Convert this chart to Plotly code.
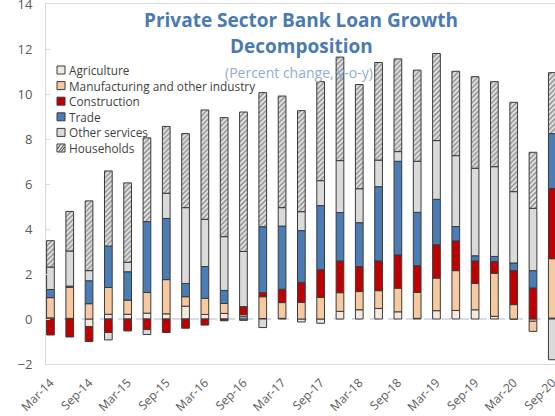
import plotly.graph_objects as go

# Quarterly contributions to private-sector loan growth (percentage points, y-o-y)
quarters = ["Mar-14", "Jun-14", "Sep-14", "Dec-14", "Mar-15", "Jun-15", "Sep-15", "Dec-15",
            "Mar-16", "Jun-16", "Sep-16", "Dec-16", "Mar-17", "Jun-17", "Sep-17", "Dec-17",
            "Mar-18", "Jun-18", "Sep-18", "Dec-18", "Mar-19", "Jun-19", "Sep-19", "Dec-19",
            "Mar-20", "Jun-20", "Sep-20"]

agriculture = [0.05, 0.03, -0.34, 0.21, 0.21, 0.26, 0.23, 0.57, 0.20, 0.25, 0.10, 0.02, 0.03, -0.13,
               -0.19, 0.34, 0.41, 0.47, 0.32, 0.03, 0.37, 0.38, 0.41, 0.12, 0.00, -0.10, 0.04]
manufacturing = [0.90, 1.38, 0.68, 1.19, 0.63, 0.92, 1.52, 0.42, 0.72, 0.44, 0.09, 0.97, 0.70, 0.74,
                 0.96, 0.83, 0.81, 0.79, 1.05, 1.15, 1.45, 1.77, 1.17, 1.91, 0.64, -0.45, 2.64]
construction = [-0.71, -0.80, -0.66, -0.60, -0.53, -0.47, -0.60, -0.41, -0.27, -0.08, 0.36, 0.18, 0.59, 0.89,
                1.23, 1.41, 1.11, 1.32, 1.48, 1.19, 1.48, 1.32, 1.00, 0.52, 1.51, 1.38, 3.12]
trade = [0.36, 0.05, 1.02, 1.84, 1.26, 3.15, 2.72, 0.59, 1.41, 0.58, -0.06, 2.93, 2.81, 2.30,
         2.85, 2.15, 1.95, 3.30, 4.16, 2.37, 2.02, 0.64, 0.23, 0.23, 0.34, 0.77, 2.44]
other_services = [1.00, 1.56, 0.45, -0.33, 0.42, -0.22, 1.12, 3.37, 2.10, 2.39, 2.45, -0.38, 0.82, 0.84,
                  1.11, 2.31, 1.51, 1.18, 0.43, 2.27, 2.61, 3.15, 3.89, 3.99, 3.17, 2.77, -1.81]
households = [1.17, 1.76, 3.10, 3.34, 3.53, 3.72, 2.97, 3.29, 4.86, 5.29, 6.20, 5.96, 4.96, 4.49,
              4.40, 4.60, 4.63, 4.34, 4.12, 4.05, 3.87, 3.75, 4.07, 3.78, 3.97, 2.49, 2.71]

series_names = ["Agriculture", "Manufacturing and other industry", "Construction",
                "Trade", "Other services", "Households"]

# Page geometry
W, H = 555, 416
ML, MR, MT, MB = 46, 0, 4, 52
PW, PH = W - ML - MR, H - MT - MB


def fx(px):
    return (px - ML) / PW


def fy(py):
    return (H - MB - py) / PH


EDGE = "#3a3a3a"
colors = {
    "Agriculture": "#f4e9de",
    "Manufacturing and other industry": "#f6c9a1",
    "Construction": "#c00000",
    "Trade": "#4a7db6",
    "Other services": "#dadada",
    "Households": "#e6e6e6",
}
values = {
    "Agriculture": agriculture,
    "Manufacturing and other industry": manufacturing,
    "Construction": construction,
    "Trade": trade,
    "Other services": other_services,
    "Households": households,
}

fig = go.Figure()
for name in series_names:
    marker = dict(color=colors[name], line=dict(color=EDGE, width=1))
    if name == "Households":
        marker["pattern"] = dict(shape="/", size=3.5, solidity=0.45,
                                 fgcolor="#3a3a3a", bgcolor=colors[name])
    fig.add_trace(go.Bar(x=quarters, y=values[name], name=name, width=0.4,
                         marker=marker, showlegend=False))

shapes = [
    # dashed zero line
    dict(type="line", xref="paper", yref="y", x0=0, x1=1, y0=0, y1=0,
         line=dict(color="#a9bcd3", width=1, dash="dash"), layer="below"),
]

annotations = [
    dict(text="<b>Private Sector Bank Loan Growth</b>", x=fx(301), y=fy(20),
         font=dict(size=19, color="#4a7ab2", family="Open Sans")),
    dict(text="<b>Decomposition</b>", x=fx(301), y=fy(46),
         font=dict(size=19, color="#4a7ab2", family="Open Sans")),
    dict(text="(Percent change, y-o-y)", x=fx(299), y=fy(72),
         font=dict(size=14, color="#8eadd3", family="Open Sans")),
]
for a in annotations:
    a.update(xref="paper", yref="paper", showarrow=False, xanchor="center", yanchor="middle")

# Legend drawn as small swatches with labels
leg_y0, leg_step = 70.0, 15.6
for i, name in enumerate(series_names):
    cy = leg_y0 + i * leg_step
    x0, x1 = fx(57), fx(65)
    y0, y1 = fy(cy + 4), fy(cy - 4)
    shapes.append(dict(type="rect", xref="paper", yref="paper", x0=x0, x1=x1, y0=y0, y1=y1,
                       fillcolor=colors[name], line=dict(color=EDGE, width=1)))
    if name == "Households":
        path = (f"M {fx(57.5)},{fy(cy + 1)} L {fx(60.5)},{fy(cy - 3.5)} "
                f"M {fx(59)},{fy(cy + 3.5)} L {fx(64)},{fy(cy - 3.5)} "
                f"M {fx(61.5)},{fy(cy + 3.5)} L {fx(64.5)},{fy(cy - 1)}")
        shapes.append(dict(type="path", xref="paper", yref="paper", path=path,
                           line=dict(color=EDGE, width=1)))
    annotations.append(dict(text=name, x=fx(67), y=fy(cy), xref="paper", yref="paper",
                            showarrow=False, xanchor="left", yanchor="middle",
                            font=dict(size=11.8, color="#3f3f3f", family="Open Sans")))

fig.update_layout(
    width=W, height=H,
    margin=dict(l=ML, r=MR, t=MT, b=MB, pad=0, autoexpand=False),
    paper_bgcolor="white", plot_bgcolor="white",
    barmode="relative",
    shapes=shapes,
    annotations=annotations,
    showlegend=False,
    font=dict(family="Open Sans", color="#595959"),
)
fig.update_xaxes(
    type="category", range=[-0.23, 26.14], automargin=False,
    tickmode="array", tickvals=quarters[::2], ticktext=quarters[::2],
    tickangle=-45, tickfont=dict(size=12, color="#595959"),
    showline=True, linecolor="#d9d9d9", linewidth=1, mirror=True,
    showgrid=False, ticks="", ticklabelstandoff=6,
)
fig.update_yaxes(
    range=[-2, 14], dtick=2, tick0=0, automargin=False,
    tickfont=dict(size=13, color="#595959"),
    showline=True, linecolor="#d9d9d9", linewidth=1,
    showgrid=False, zeroline=False,
    ticks="inside", ticklen=4, tickcolor="#d9d9d9", ticklabelstandoff=10,
    ticklabeloverflow="allow",
)

fig.write_html("out.html")
